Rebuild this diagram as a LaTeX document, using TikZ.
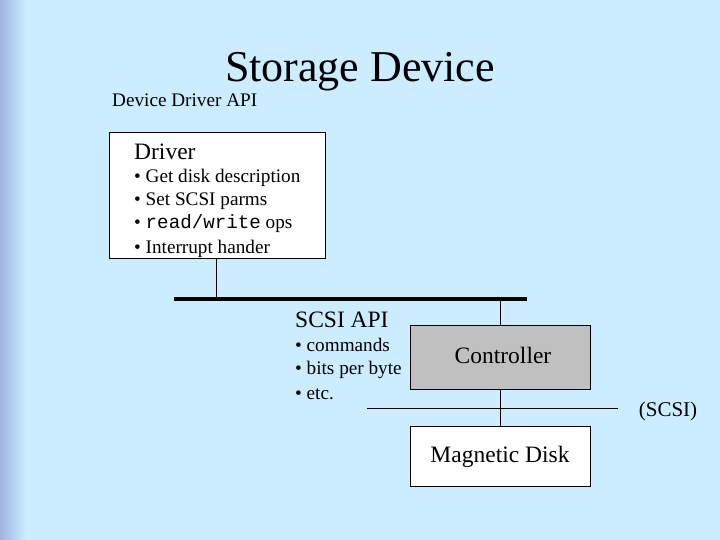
\documentclass[tikz,border=0pt]{standalone}
\usepackage{fontspec}
\setmainfont{Liberation Serif}
\setmonofont{Liberation Mono}
\definecolor{bg}{RGB}{204,236,255}
\definecolor{edge}{RGB}{160,180,225}
\definecolor{ctrl}{RGB}{192,192,192}
\begin{document}
\begin{tikzpicture}[x=1pt,y=-1pt,
  box/.style={draw=black,line width=0.8pt},
  ln/.style={draw=black,line width=0.8pt},
  big/.style={font=\rmfamily\fontsize{23.5}{26}\selectfont},
  txt/.style={anchor=west,inner sep=0pt,font=\rmfamily\fontsize{19.2}{21}\selectfont}]
\useasboundingbox (0,0) rectangle (720,540);
\fill[bg] (0,0) rectangle (720,540);
\shade[left color=edge,right color=bg,shading angle=90] (0,0) rectangle (26,540);
\node[inner sep=0pt,font=\rmfamily\fontsize{44}{50}\selectfont] (title) at (360,72) {Storage Device};
\node[txt] (dapi) at (112,100) {Device Driver API};
\node[box,fill=white,minimum width=216,minimum height=126,anchor=north west] (drv) at (109,132) {};
\node[txt,big] (drvt) at (134,152) {Driver};
\node[txt] (b1) at (134,178) {• Get disk description};
\node[txt] (b2) at (134,201) {• Set SCSI parms};
\node[txt] (b3) at (134,224) {• \texttt{read/write} ops};
\node[txt] (b4) at (134,249) {• Interrupt hander};
\coordinate (bl) at (174,299);
\coordinate (br) at (527,299);
\draw[line width=4pt] (bl) -- (br);
\coordinate (d1) at (216,299);
\draw[ln] (216,258) -- (d1);
\node[box,fill=ctrl,minimum width=180,minimum height=64,anchor=north west] (ctl) at (410,325) {};
\node[big] at (503,355) {Controller};
\coordinate (c1) at (500,299);
\draw[ln] (c1) -- (ctl.north -| c1);
\node[box,fill=white,minimum width=180,minimum height=60,anchor=north west] (disk) at (410,426) {};
\node[big] at (500,457) {Magnetic Disk};
\draw[ln] (ctl.south -| c1) -- (disk.north -| c1);
\node[txt,big] (sapi) at (295,320) {SCSI API};
\node[txt] (s1) at (295,345) {• commands};
\node[txt] (s2) at (295,370) {• bits per byte};
\node[txt] (s3) at (295,394) {• etc.};
\coordinate (hl) at (367,408);
\coordinate (hr) at (618,408);
\draw[ln] (hl) -- (hr);
\node[inner sep=0pt,font=\rmfamily\fontsize{21}{23}\selectfont] (scsi) at (668,411) {(SCSI)};
\end{tikzpicture}
\end{document}
